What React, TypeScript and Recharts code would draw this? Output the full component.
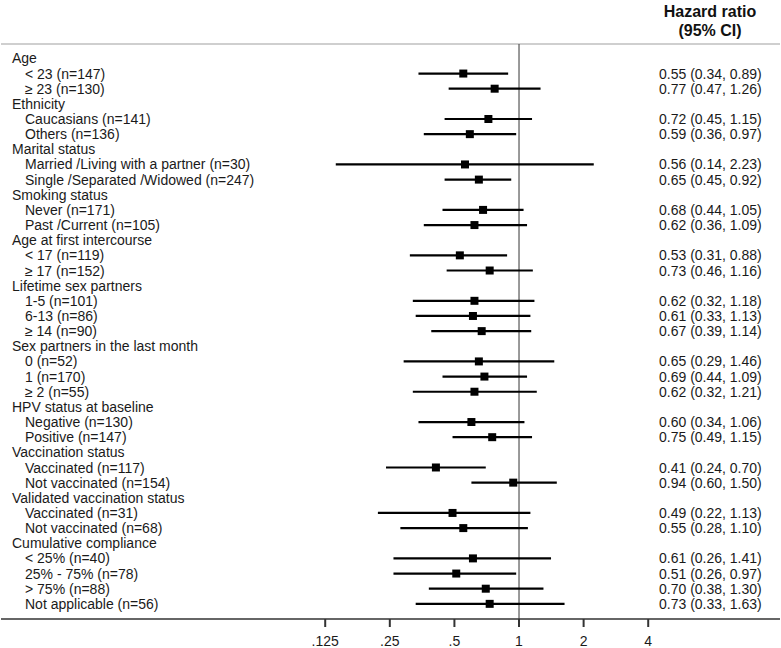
import React from 'react';
import { ScatterChart, Scatter, XAxis, YAxis, ZAxis, ErrorBar, ReferenceLine } from 'recharts';

const rowLabels: string[] = [
  'Age',
  '< 23 (n=147)',
  '≥ 23 (n=130)',
  'Ethnicity',
  'Caucasians (n=141)',
  'Others (n=136)',
  'Marital status',
  'Married /Living with a partner (n=30)',
  'Single /Separated /Widowed (n=247)',
  'Smoking status',
  'Never (n=171)',
  'Past /Current (n=105)',
  'Age at first intercourse',
  '< 17 (n=119)',
  '≥ 17 (n=152)',
  'Lifetime sex partners',
  '1-5 (n=101)',
  '6-13 (n=86)',
  '≥ 14 (n=90)',
  'Sex partners in the last month',
  '0 (n=52)',
  '1 (n=170)',
  '≥ 2 (n=55)',
  'HPV status at baseline',
  'Negative (n=130)',
  'Positive (n=147)',
  'Vaccination status',
  'Vaccinated (n=117)',
  'Not vaccinated (n=154)',
  'Validated vaccination status',
  'Vaccinated (n=31)',
  'Not vaccinated (n=68)',
  'Cumulative compliance',
  '< 25% (n=40)',
  '25% - 75% (n=78)',
  '> 75% (n=88)',
  'Not applicable (n=56)',
];

const hazardRatio: (number | null)[] = [
  null, 0.55, 0.77,
  null, 0.72, 0.59,
  null, 0.56, 0.65,
  null, 0.68, 0.62,
  null, 0.53, 0.73,
  null, 0.62, 0.61, 0.67,
  null, 0.65, 0.69, 0.62,
  null, 0.60, 0.75,
  null, 0.41, 0.94,
  null, 0.49, 0.55,
  null, 0.61, 0.51, 0.70, 0.73,
];

const ciLower: (number | null)[] = [
  null, 0.34, 0.47,
  null, 0.45, 0.36,
  null, 0.14, 0.45,
  null, 0.44, 0.36,
  null, 0.31, 0.46,
  null, 0.32, 0.33, 0.39,
  null, 0.29, 0.44, 0.32,
  null, 0.34, 0.49,
  null, 0.24, 0.60,
  null, 0.22, 0.28,
  null, 0.26, 0.26, 0.38, 0.33,
];

const ciUpper: (number | null)[] = [
  null, 0.89, 1.26,
  null, 1.15, 0.97,
  null, 2.23, 0.92,
  null, 1.05, 1.09,
  null, 0.88, 1.16,
  null, 1.18, 1.13, 1.14,
  null, 1.46, 1.09, 1.21,
  null, 1.06, 1.15,
  null, 0.70, 1.50,
  null, 1.13, 1.10,
  null, 1.41, 0.97, 1.30, 1.63,
];

const xTicks = [0.125, 0.25, 0.5, 1, 2, 4];
const xTickLabels = ['.125', '.25', '.5', '1', '2', '4'];

const FONT = '"Liberation Sans", Arial, Helvetica, sans-serif';

const fmt = (v: number) => v.toFixed(2);

const data = hazardRatio
  .map((hr, i) => {
    if (hr === null) return null;
    const lo = ciLower[i] as number;
    const hi = ciUpper[i] as number;
    return {
      row: i + 1,
      hr,
      err: [hr - lo, hi - hr],
      text: `${fmt(hr)} (${fmt(lo)}, ${fmt(hi)})`,
    };
  })
  .filter(Boolean) as { row: number; hr: number; err: number[]; text: string }[];

const allRows = rowLabels.map((_, i) => i + 1);
const dataRows = data.map((d) => d.row);

const X_DOMAIN: [number, number] = [0.003856, 16.45];
const Y_DOMAIN: [number, number] = [0.05, 38];

const renderLeftTick = (props: any) => {
  const { y, payload } = props;
  const idx = payload.value - 1;
  const isHeader = hazardRatio[idx] === null;
  return (
    <text
      key={`l-${idx}`}
      x={isHeader ? 12 : 25}
      y={y}
      dy="0.36em"
      textAnchor="start"
      fontSize={14}
      fontFamily={FONT}
      fill="#1a1a1a"
    >
      {rowLabels[idx]}
    </text>
  );
};

const renderRightTick = (props: any) => {
  const { y, payload } = props;
  const d = data.find((r) => r.row === payload.value);
  if (!d) return <g key={`r-${payload.value}`} />;
  return (
    <text key={`r-${d.row}`} x={659} y={y} dy="0.36em" textAnchor="start" fontSize={14} fontFamily={FONT} fill="#1a1a1a">
      {d.text}
    </text>
  );
};

export default function App() {
  return (
    <div style={{ position: 'absolute', left: 0, top: 0, width: 781, height: 648, background: '#fff' }}>
      <div
        style={{
          position: 'absolute',
          left: 640,
          width: 140,
          top: 2,
          textAlign: 'center',
          fontFamily: FONT,
          fontWeight: 'bold',
          fontSize: 16,
          lineHeight: '19px',
          color: '#111',
        }}
      >
        Hazard ratio
        <br />
        (95% CI)
      </div>
      <ScatterChart width={781} height={648} margin={{ top: 44, right: 0, bottom: 0, left: 0 }}>
        <XAxis
          type="number"
          dataKey="hr"
          scale="log"
          domain={X_DOMAIN}
          allowDataOverflow
          ticks={xTicks}
          interval={0}
          tickFormatter={(v: number) => xTickLabels[xTicks.indexOf(v)] ?? String(v)}
          height={29}
          tickSize={8}
          tickMargin={9}
          axisLine={{ stroke: '#333', strokeWidth: 1.5 }}
          tickLine={{ stroke: '#333', strokeWidth: 2 }}
          tick={{ fontSize: 14, fill: '#1a1a1a', fontFamily: FONT }}
        />
        <YAxis
          yAxisId="left"
          type="number"
          dataKey="row"
          reversed
          domain={Y_DOMAIN}
          allowDataOverflow
          ticks={allRows}
          interval={0}
          width={1}
          axisLine={false}
          tickLine={false}
          tick={renderLeftTick}
        />
        <YAxis
          yAxisId="right"
          orientation="right"
          type="number"
          dataKey="row"
          reversed
          domain={Y_DOMAIN}
          allowDataOverflow
          ticks={dataRows}
          interval={0}
          width={1}
          axisLine={false}
          tickLine={false}
          tick={renderRightTick}
        />
        <ZAxis range={[125, 125]} />
        <ReferenceLine yAxisId="left" y={Y_DOMAIN[0]} stroke="#cfcfcf" strokeWidth={2} />
        <ReferenceLine yAxisId="left" x={1} stroke="#555" strokeWidth={1.2} />
        <Scatter
          yAxisId="left"
          data={data}
          fill="#000"
          shape="square"
          isAnimationActive={false}
        >
          <ErrorBar dataKey="err" direction="x" width={0} stroke="#000" strokeWidth={2.2} />
        </Scatter>
      </ScatterChart>
    </div>
  );
}
